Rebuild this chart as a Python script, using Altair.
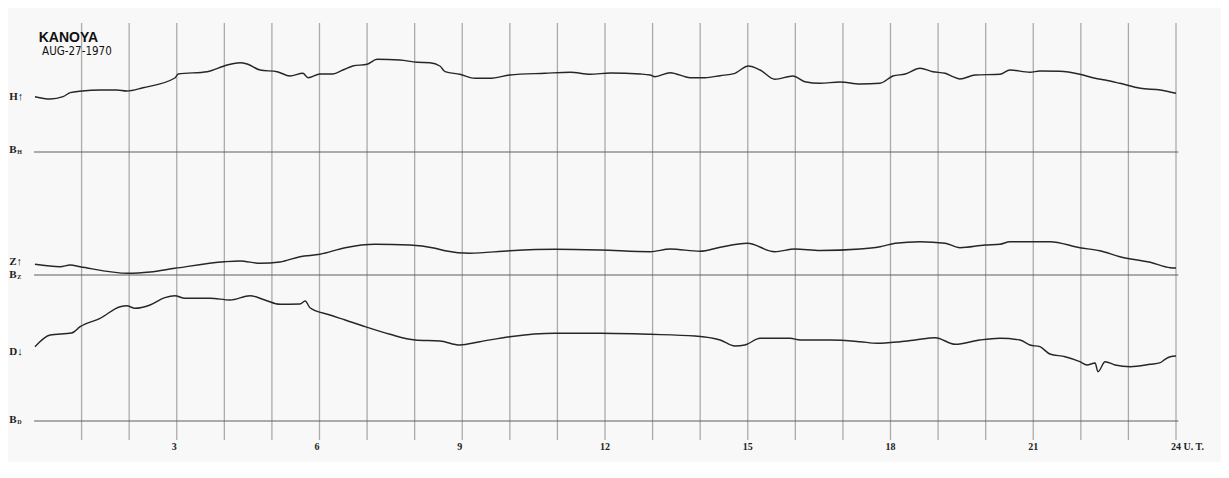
import altair as alt
import pandas as pd

# ---- data (hours UT, trace offset above its baseline) ----
H_hours = [0.02, 0.34, 0.61, 0.76, 1.01, 1.39, 1.74, 1.95, 2.29, 2.96, 3.03, 3.64, 4.06, 4.33, 4.48,
           4.75, 5.11, 5.38, 5.65, 5.76, 6.01, 6.28, 6.49, 6.70, 7.00, 7.21, 7.69, 8.05, 8.32, 8.53,
           8.64, 8.95, 9.27, 9.58, 10.00, 10.74, 11.27, 11.69, 12.11, 12.74, 12.95, 13.05, 13.37,
           13.79, 14.10, 14.42, 14.73, 15.01, 15.26, 15.57, 15.95, 16.20, 16.52, 16.94, 17.36,
           17.78, 18.05, 18.31, 18.62, 18.89, 19.15, 19.31, 19.46, 19.78, 20.30, 20.51, 20.93,
           21.14, 21.56, 21.98, 22.30, 22.51, 22.82, 23.25, 23.67, 24.0]
H_vals = [55.3, 53, 55.3, 59.3, 61, 62, 62, 61, 64.3, 74, 78, 80.3, 87, 89.3, 88,
          82, 80.3, 76, 78.7, 74.3, 78, 78, 82, 86, 87.7, 92.7, 92, 89.7, 89.3, 86,
          80.3, 77.7, 73.7, 73.7, 77, 78.7, 79.7, 77.7, 79, 78, 77, 75.3, 79.3,
          74.3, 74.3, 76.3, 78.7, 86, 82, 72.7, 76, 70.3, 68.7, 70, 68,
          68.7, 76, 78, 83.7, 80.3, 78.7, 75.3, 73, 77, 77.7, 82, 79.7,
          81, 80.7, 77.7, 73.7, 72, 68.7, 63.7, 62, 58.7]

Z_hours = [0.02, 0.55, 0.76, 0.97, 1.98, 2.44, 2.96, 4.01, 4.33, 4.75, 5.17, 5.59, 6.01, 6.54,
           7.17, 7.90, 8.43, 8.64, 9.16, 10.00, 10.95, 11.90, 12.95, 13.37, 14.00, 14.42, 14.99,
           15.57, 15.99, 16.52, 17.36, 17.78, 18.10, 18.62, 19.15, 19.46, 19.99, 20.30, 20.51,
           21.35, 21.98, 22.40, 22.82, 23.46, 23.88, 24.0]
Z_vals = [10.7, 8.3, 10, 8.3, 1.7, 3, 6.7, 13.3, 14, 11.7, 13, 18.3, 20.7, 27.3,
          30.7, 30, 26.7, 24.3, 21.7, 24.3, 25.7, 25, 23.3, 26, 23.7, 27.7, 31.7,
          23.3, 26, 24.5, 26, 28.3, 31.7, 33.3, 31.7, 27.3, 30, 30.7, 33.3,
          33.3, 27.3, 24.3, 18.3, 12.7, 7.3, 7]

D_hours = [0.02, 0.34, 0.79, 0.97, 1.39, 1.81, 1.95, 2.12, 2.44, 2.75, 2.96, 3.17, 3.70, 4.12,
           4.54, 4.85, 5.17, 5.59, 5.70, 5.80, 6.22, 6.54, 6.96, 7.48, 8.01, 8.53, 8.95, 9.37,
           10.00, 10.95, 11.90, 12.95, 13.89, 14.42, 14.73, 14.94, 15.26, 15.89, 16.10, 16.73,
           17.36, 17.72, 18.20, 18.52, 18.94, 19.36, 19.88, 20.30, 20.72, 20.93, 21.14, 21.35,
           21.67, 21.98, 22.13, 22.30, 22.36, 22.51, 22.72, 23.04, 23.46, 23.67, 23.77, 23.88, 24.0]
D_vals = [74.3, 86, 88, 94.3, 102.7, 114.3, 115.3, 112.7, 116, 123.3, 125.3, 122.7, 122.7, 121,
          125.3, 121, 116.7, 117, 120, 113.3, 106, 101, 94.3, 86.7, 81, 80, 76, 79.3,
          84.3, 87.7, 87.7, 86.7, 85, 81, 75, 76, 82.7, 82.7, 81, 81,
          79.3, 77.7, 79.3, 81, 83.3, 76.7, 81, 82.7, 81, 76, 74.3, 67,
          64.3, 59.3, 56, 58, 49.3, 59.3, 56, 54.3, 56.7, 58.3, 61.7, 64.3, 65]

series_names = ["H", "Z", "D"]
baseline_levels = [269, 146, 0]           # BH, BZ, BD positions on the chart's level scale
trace_labels = ["H\u2191", "Z\u2191", "D\u2193"]
trace_label_levels = [324, 159, 69]
base_letters = ["B", "B", "B"]
base_subs = ["H", "Z", "D"]
base_label_levels = [271, 146, 1]

hour_lines = list(range(1, 25))
tick_hours = [3, 6, 9, 12, 15, 18, 21, 24]
tick_texts = ["3", "6", "9", "12", "15", "18", "21", "24 U. T."]

station = "KANOYA"
date_text = "AUG-27-1970"

# ---- tables built from the arrays ----
rows = []
for name, base, hrs, vals in zip(series_names, baseline_levels,
                                 [H_hours, Z_hours, D_hours], [H_vals, Z_vals, D_vals]):
    for i, (h, v) in enumerate(zip(hrs, vals)):
        rows.append({"series": name, "hour": h, "level": base + v, "order": i})
traces = pd.DataFrame(rows)
bases = pd.DataFrame({"name": series_names, "level": baseline_levels,
                      "h0": [0.0] * 3, "h1": [24.05] * 3})
grid = pd.DataFrame({"hour": hour_lines, "lo": [-19] * len(hour_lines), "hi": [398] * len(hour_lines)})
ticks = pd.DataFrame({"hour": tick_hours, "text": tick_texts, "level": [-26] * len(tick_hours)})
tlabels = pd.DataFrame({"text": trace_labels, "level": trace_label_levels, "hour": [-0.52] * 3})
blabels = pd.DataFrame({"b": base_letters, "sub": base_subs, "level": base_label_levels,
                        "hour": [-0.52] * 3})
head = pd.DataFrame({"text": [station, date_text], "hour": [0.1, 0.17], "level": [383, 369],
                     "kind": ["station", "date"]})

X = alt.Scale(domain=[0, 24], nice=False, zero=False)
Y = alt.Scale(domain=[-27, 413], nice=False, zero=False)

def xq(f="hour"):
    return alt.X(f + ":Q", scale=X, axis=None)

def yq(f="level"):
    return alt.Y(f + ":Q", scale=Y, axis=None)

grid_layer = alt.Chart(grid).mark_rule(color="#ababab", strokeWidth=1.3).encode(
    x=xq(), y=yq("lo"), y2="hi:Q")

base_layer = alt.Chart(bases).mark_rule(color="#5e5e5e", strokeWidth=1).encode(
    x=xq("h0"), x2="h1:Q", y=yq())

trace_layer = alt.Chart(traces).mark_line(color="#262626", strokeWidth=1.4,
                                          interpolate="monotone").encode(
    x=xq(), y=yq(), detail="series:N", order="order:Q")

tick_layer = alt.Chart(ticks).mark_text(font="Liberation Serif", fontWeight="bold", fontSize=10,
                                        color="#222", align="left", dx=-5).encode(
    x=xq(), y=yq(), text="text:N")

tl_layer = alt.Chart(tlabels).mark_text(font="Liberation Serif", fontWeight="bold", fontSize=11,
                                        color="#222", align="left").encode(
    x=xq(), y=yq(), text="text:N")

bl_layer = alt.Chart(blabels).mark_text(font="Liberation Serif", fontWeight="bold", fontSize=11,
                                        color="#222", align="left").encode(
    x=xq(), y=yq(), text="b:N")
bs_layer = alt.Chart(blabels).mark_text(font="Liberation Serif", fontWeight="bold", fontSize=6,
                                        color="#222", align="left", dx=8, dy=2).encode(
    x=xq(), y=yq(), text="sub:N")

title_layer = alt.Chart(head).transform_filter("datum.kind == 'station'").mark_text(
    font="Liberation Sans", fontWeight="bold", fontSize=14, color="#111", align="left").encode(
    x=xq(), y=yq(), text="text:N")
date_layer = alt.Chart(head).transform_filter("datum.kind == 'date'").mark_text(
    font="DejaVu Sans Condensed, Liberation Sans Narrow, sans-serif",
    fontSize=11.5, color="#111", align="left").encode(
    x=xq(), y=yq(), text="text:N")

chart = alt.layer(grid_layer, base_layer, trace_layer, tick_layer, tl_layer, bl_layer, bs_layer,
                  title_layer, date_layer).properties(
    width=1142, height=440,
    autosize=alt.AutoSizeParams(type="none"),
    padding={"left": 26, "top": 0, "right": 45, "bottom": 14},
    background="#f8f8f8",
).configure_view(stroke=None)

chart.save("out.html", embed_options={"renderer": "svg", "actions": False})
